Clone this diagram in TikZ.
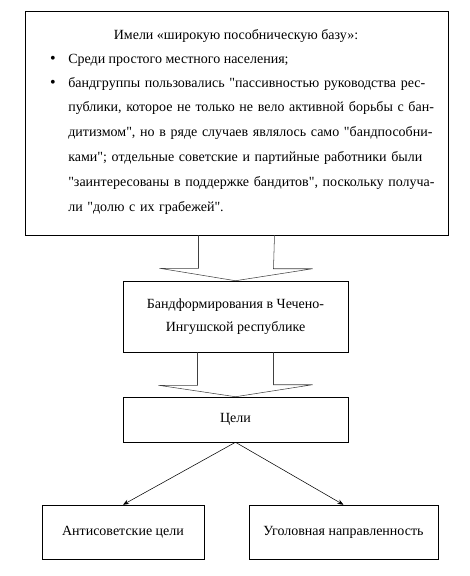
\documentclass[tikz,border=0pt]{standalone}
\usepackage{fontspec}
\setmainfont{Liberation Serif}[Ligatures=TeXOff]
\usetikzlibrary{arrows.meta, positioning, calc}
\tikzstyle{box}        = [rectangle, draw=black, thin, text centered, inner sep=2pt]
\tikzstyle{line}       = [anchor=base west, inner sep=0pt, align=left]
\tikzstyle{blockarrow} = [draw=black!75, thin]
\tikzstyle{arrow}      = [thin, -{Stealth[length=4.5pt, width=3.5pt]}]

\begin{document}
\begin{tikzpicture}[x=0.75pt, y=-0.75pt,
    every node/.style={font=\fontsize{10.5}{17.25}\selectfont}]

  \useasboundingbox (0,0) rectangle (469,576);

  % Top block with the list
  \node (base) [box, minimum width=317.25pt, minimum height=168pt] at (236.5,123) {};
  \node (title) [anchor=base, inner sep=0pt] at (236,39) {Имели «широкую пособническую базу»:};
  \node (bul1) [anchor=base, inner sep=0pt] at (53,63) {\large\textbullet};
  \node (bul2) [anchor=base, inner sep=0pt] at (53,87) {\large\textbullet};
  \node (item1) [line] at (68,63) {Среди простого местного населения;};
  \node (item2) [line, text width=280pt, font=\fontsize{10.5}{18.6}\selectfont] at (68,87)
    {\makebox[272.25pt][s]{бандгруппы пользовались "пассивностью руководства рес-}\\
     \makebox[272.25pt][s]{публики, которое не только не вело активной борьбы с бан-}\\
     \makebox[272.25pt][s]{дитизмом", но в ряде случаев являлось само "бандпособни-}\\
     ками"; отдельные советские и партийные работники были\\
     \makebox[272.25pt][s]{"заинтересованы в поддержке бандитов", поскольку получа-}\\
     ли "долю с их грабежей".};

  % Middle boxes
  \node (gangs) [box, minimum width=168.75pt, minimum height=53.25pt, align=center]
        at (235.5,316.5) {Бандформирования в Чечено-\\Ингушской республике};
  \node (goals) [box, minimum width=168.75pt, minimum height=33.75pt] at (235.5,419.5) {Цели};

  % Bottom boxes
  \node (anti)  [box, minimum width=121.5pt, minimum height=40.5pt] at (123,532) {Антисоветские цели};
  \node (crime) [box, minimum width=141.75pt, minimum height=40.5pt] at (343.5,532) {Уголовная направленность};

  % Block arrows
  \draw[blockarrow] ($(base.south)+(-38,0)$) -- ++(0,33) -- ++(-39,0) -- (gangs.north)
        -- ($(gangs.north)+(77,-12)$) -- ++(-39,0) -- ($(base.south)+(38,0)$);
  \draw[blockarrow] ($(gangs.south)+(-38,0)$) -- ++(0,33) -- ++(-39,0) -- (goals.north)
        -- ($(goals.north)+(77,-12)$) -- ++(-39,0) -- ($(gangs.south)+(38,0)$);

  % Goal arrows
  \draw[arrow] (goals.south) -- (anti.north);
  \draw[arrow] (goals.south) -- (crime.north);

\end{tikzpicture}
\end{document}
